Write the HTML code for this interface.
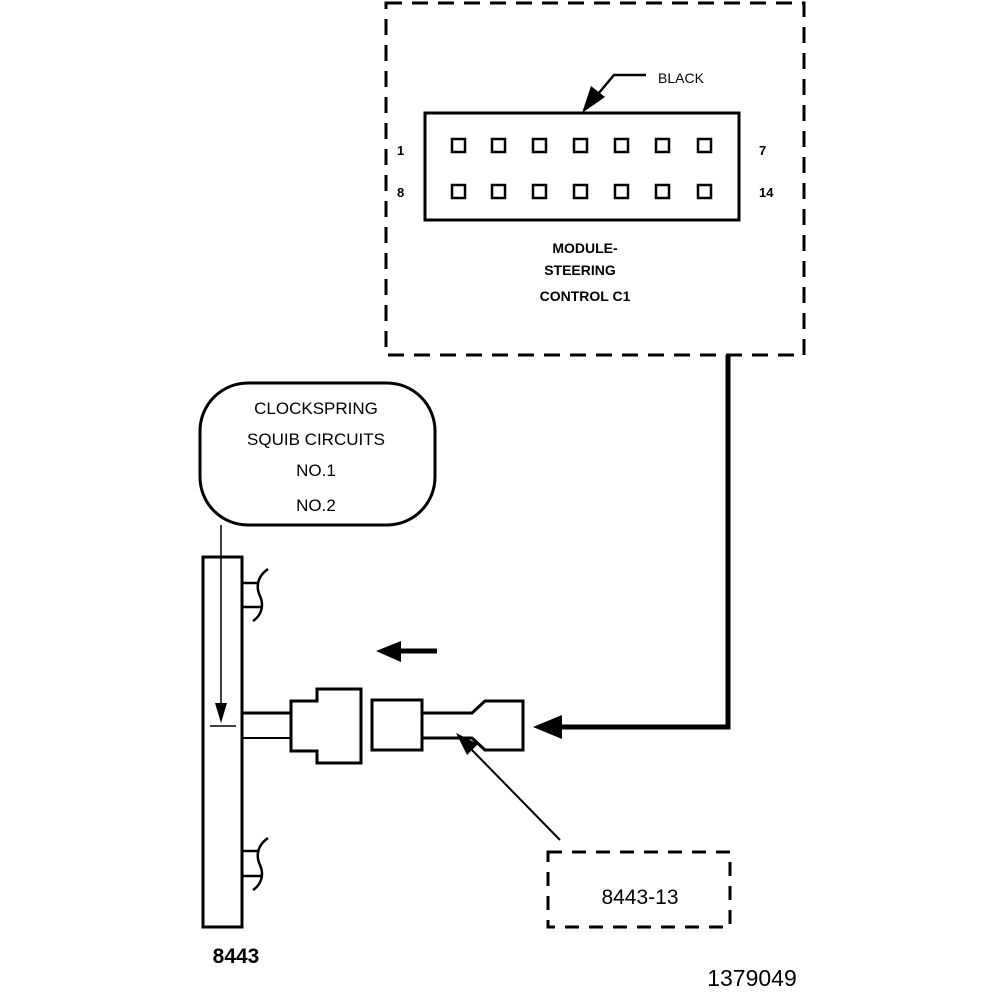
<!DOCTYPE html>
<html><head><meta charset="utf-8"><style>
html,body{margin:0;padding:0;background:#fff;}
svg{display:block;}
text{font-family:"Liberation Sans",sans-serif;fill:#000;}
</style></head><body>
<svg width="1008" height="1000" viewBox="0 0 1008 1000" xmlns="http://www.w3.org/2000/svg">
<rect width="1008" height="1000" fill="#fff"/>
<!-- module dashed box -->
<rect x="386" y="3" width="418" height="352" fill="none" stroke="#000" stroke-width="3" stroke-dasharray="16,10"/>
<!-- connector -->
<rect x="425" y="113" width="314" height="107" fill="none" stroke="#000" stroke-width="3"/>
<g fill="none" stroke="#000" stroke-width="2.5">
<rect x="452" y="139" width="13" height="13"/><rect x="492" y="139" width="13" height="13"/><rect x="533" y="139" width="13" height="13"/><rect x="574" y="139" width="13" height="13"/><rect x="615" y="139" width="13" height="13"/><rect x="656" y="139" width="13" height="13"/><rect x="698" y="139" width="13" height="13"/>
<rect x="452" y="185" width="13" height="13"/><rect x="492" y="185" width="13" height="13"/><rect x="533" y="185" width="13" height="13"/><rect x="574" y="185" width="13" height="13"/><rect x="615" y="185" width="13" height="13"/><rect x="656" y="185" width="13" height="13"/><rect x="698" y="185" width="13" height="13"/>
</g>
<!-- BLACK leader -->
<polyline points="646,75 614,75 598,94" fill="none" stroke="#000" stroke-width="2.5"/>
<polygon points="582,113 591,86 605,97" fill="#000"/>
<text x="658" y="83" font-size="14">BLACK</text>
<text x="397" y="155" font-size="13" font-weight="bold">1</text>
<text x="759" y="155" font-size="13" font-weight="bold">7</text>
<text x="397" y="197" font-size="13" font-weight="bold">8</text>
<text x="759" y="197" font-size="13" font-weight="bold">14</text>
<text x="585" y="253" font-size="14" font-weight="bold" text-anchor="middle">MODULE-</text>
<text x="580" y="275" font-size="14" font-weight="bold" text-anchor="middle">STEERING</text>
<text x="585" y="301" font-size="14" font-weight="bold" text-anchor="middle">CONTROL C1</text>
<!-- thick route -->
<polyline points="728,355 728,727 560,727" fill="none" stroke="#000" stroke-width="5"/>
<polygon points="533,727 562,715 562,739" fill="#000"/>
<!-- clockspring -->
<rect x="200" y="383" width="235" height="142" rx="48" ry="48" fill="none" stroke="#000" stroke-width="3"/>
<text x="316" y="414" font-size="17" text-anchor="middle">CLOCKSPRING</text>
<text x="316" y="445" font-size="17" text-anchor="middle">SQUIB CIRCUITS</text>
<text x="316" y="476" font-size="17" text-anchor="middle">NO.1</text>
<text x="316" y="511" font-size="17" text-anchor="middle">NO.2</text>
<!-- vertical bar -->
<rect x="203" y="557" width="39" height="370" fill="none" stroke="#000" stroke-width="3"/>
<line x1="221" y1="525" x2="221" y2="705" stroke="#000" stroke-width="1.5"/>
<polygon points="215,703 227,703 221,723" fill="#000"/>
<line x1="210" y1="726" x2="236" y2="726" stroke="#000" stroke-width="1.5"/>
<!-- brackets -->
<g fill="none" stroke="#000" stroke-width="2.5">
<line x1="242" y1="583" x2="258" y2="583"/><line x1="242" y1="607" x2="262" y2="607"/>
<path d="M268,569 C255,578 257,590 260,596 C264,605 262,615 253,621"/>
<line x1="242" y1="851" x2="258" y2="851"/><line x1="242" y1="876" x2="262" y2="876"/>
<path d="M268,838 C255,847 257,859 260,865 C264,874 262,884 253,890"/>
</g>
<!-- direction arrow -->
<line x1="400" y1="651" x2="437" y2="651" stroke="#000" stroke-width="5"/>
<polygon points="376,651 401,641 401,662" fill="#000"/>
<!-- plug -->
<g fill="none" stroke="#000" stroke-width="3">
<line x1="242" y1="713" x2="291" y2="713"/><line x1="242" y1="738" x2="291" y2="738" stroke-width="2"/>
<polygon points="291,701 317,701 317,689 361,689 361,763 317,763 317,751 291,751"/>
<rect x="372" y="700" width="50" height="50"/>
<polyline points="422,713 472,713 485,701 523,701 523,750 485,750 472,738 422,738"/>
</g>
<!-- leader to 8443-13 -->
<line x1="470" y1="748" x2="560" y2="840" stroke="#000" stroke-width="2"/>
<polygon points="456,733 478,744 467,755" fill="#000"/>
<rect x="548" y="852" width="182" height="75" fill="none" stroke="#000" stroke-width="3" stroke-dasharray="14,10"/>
<text x="640" y="904" font-size="21" text-anchor="middle">8443-13</text>
<text x="236" y="963" font-size="21" font-weight="bold" text-anchor="middle">8443</text>
<text x="752" y="986" font-size="23" text-anchor="middle">1379049</text>
</svg>
</body></html>
